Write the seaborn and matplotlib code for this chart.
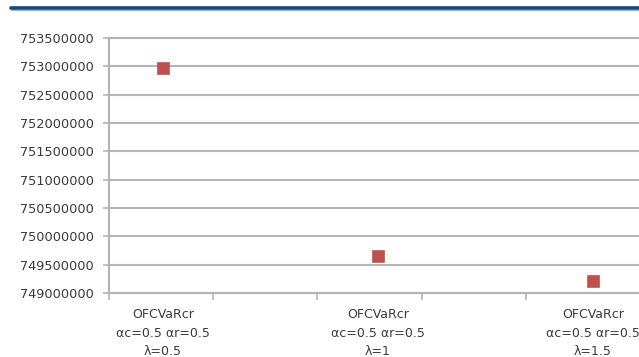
import matplotlib
matplotlib.use("Agg")
import matplotlib.pyplot as plt
from matplotlib.lines import Line2D
from matplotlib.ticker import FixedLocator
import numpy as np
import pandas as pd
import seaborn as sns

# Objective value of each OFCVaRcr configuration
categories = [
    "OFCVaRcr\nαc=0.5 αr=0.5\nλ=0.5",
    "OFCVaRcr\nαc=0.5 αr=0.5\nλ=1",
    "OFCVaRcr\nαc=0.5 αr=0.5\nλ=1.5",
]
values = [752960000, 749650000, 749220000]
y_ticks = list(range(749000000, 753500001, 500000))

df = pd.DataFrame({"config": categories, "value": values})
df["pos"] = np.arange(len(df))

sns.set_theme(style="white")
plt.rcParams["font.family"] = ["DejaVu Sans"]

fig = plt.figure(figsize=(6.39, 3.57), dpi=100)
ax = fig.add_axes([0.1706, 0.179, 0.8294, 0.715])

grid_col = "#b4b4b4"
text_col = "#3a3a3a"

sns.scatterplot(data=df, x="pos", y="value", marker="s", s=78,
                color="#c0504d", edgecolor="#b04440", linewidth=0.4,
                ax=ax, legend=False, zorder=3)

ax.set_xlim(-0.251, 2.214)
ax.set_ylim(y_ticks[0], y_ticks[-1])
ax.set_yticks(y_ticks)
ax.set_yticklabels([str(v) for v in y_ticks])
ax.set_xticks(df["pos"])
ax.set_xticklabels(df["config"], linespacing=1.55)
ax.xaxis.set_minor_locator(FixedLocator(-0.251 + 0.4845 * np.arange(5)))

ax.set_xlabel("")
ax.set_ylabel("")
ax.grid(axis="y", color=grid_col, linewidth=1.5)
ax.set_axisbelow(True)
for gl in ax.get_ygridlines():
    gl.set_clip_on(False)

for side in ["top", "right"]:
    ax.spines[side].set_visible(False)
for side in ["left", "bottom"]:
    ax.spines[side].set_color(grid_col)
    ax.spines[side].set_linewidth(1.5)

ax.tick_params(axis="y", which="major", length=4, width=1.2, color=grid_col,
               direction="out", left=True, labelsize=9.3, labelcolor=text_col, pad=7)
ax.tick_params(axis="x", which="major", length=0, labelsize=9.0,
               labelcolor=text_col, pad=11)
ax.tick_params(axis="x", which="minor", length=5, width=1.2, color=grid_col,
               direction="out", bottom=True)

# header rule across the top of the figure
fig.add_artist(Line2D([0.017, 1.0], [1 - 8.0 / 357, 1 - 8.0 / 357],
                      color="#0e4a7e", linewidth=2.6, transform=fig.transFigure))
fig.add_artist(Line2D([0.017, 1.0], [1 - 9.8 / 357, 1 - 9.8 / 357],
                      color="#8fb0d0", linewidth=0.8, transform=fig.transFigure))

fig.savefig("out.png", dpi=100)
